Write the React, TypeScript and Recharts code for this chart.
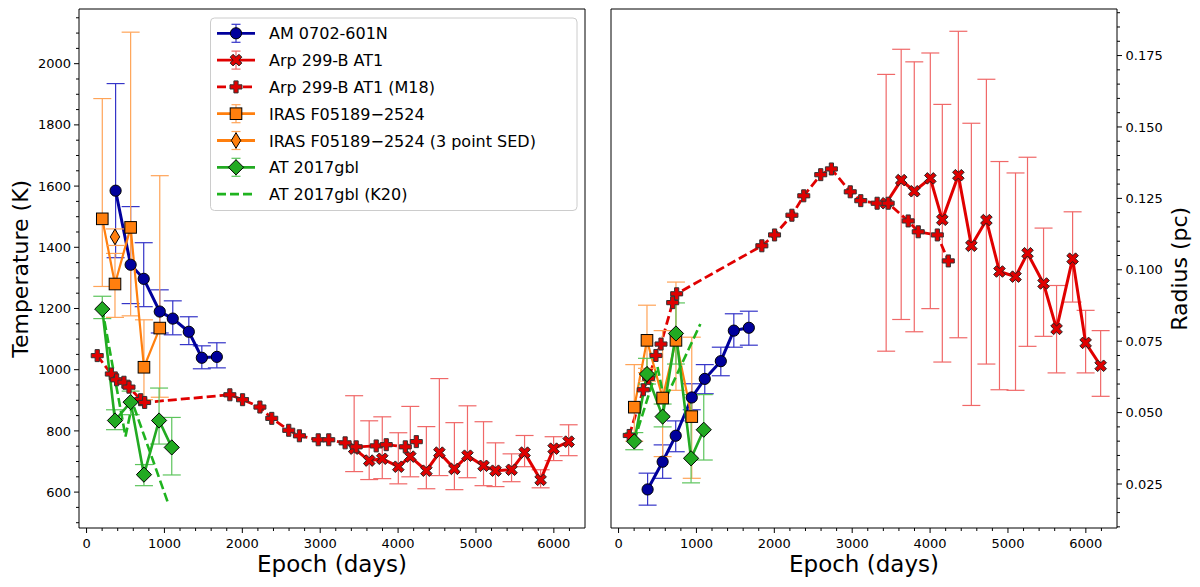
import { ComposedChart, Line, XAxis, YAxis, ErrorBar, ReferenceLine } from 'recharts';

// ---- values ----
// AM 0702-601N
const AM_EPOCH = [373, 566, 734, 940, 1107, 1313, 1480, 1673];
const AM_TEMP = [1585, 1343, 1297, 1190, 1167, 1124, 1039, 1042];
const AM_TEMP_LO = [1366, 1216, 1206, 1120, 1114, 1082, 1003, 1006];
const AM_TEMP_HI = [1935, 1533, 1415, 1261, 1225, 1173, 1078, 1088];
const AM_RAD = [0.0231, 0.0328, 0.0419, 0.0553, 0.0618, 0.068, 0.0787, 0.0797];
const AM_RAD_LO = [0.0176, 0.027, 0.0363, 0.051, 0.0566, 0.0629, 0.0729, 0.0736];
const AM_RAD_HI = [0.0288, 0.0387, 0.0471, 0.0601, 0.0668, 0.0729, 0.0846, 0.0855];

// Arp 299-B AT1
const ARP_EPOCH = [3436, 3629, 3797, 4003, 4157, 4363, 4530, 4723, 4891, 5097, 5251, 5457, 5624, 5830, 5997, 6190];
const ARP_TEMP = [742, 703, 709, 683, 716, 670, 729, 676, 719, 686, 670, 673, 729, 640, 742, 765];
const ARP_TEMP_LO = [667, 641, 644, 627, 650, 611, 654, 608, 647, 621, 618, 634, 683, 614, 703, 719];
const ARP_TEMP_HI = [915, 833, 846, 794, 880, 814, 971, 827, 882, 830, 761, 725, 785, 673, 781, 820];
const ARP_RAD = [0.1233, 0.1314, 0.1275, 0.132, 0.1175, 0.1331, 0.1084, 0.1174, 0.0994, 0.0976, 0.1058, 0.0952, 0.0793, 0.1039, 0.0744, 0.0664];
const ARP_RAD_LO = [0.0715, 0.0826, 0.0783, 0.0864, 0.0677, 0.0762, 0.0525, 0.067, 0.058, 0.0578, 0.0732, 0.0767, 0.0639, 0.0887, 0.0639, 0.0557];
const ARP_RAD_HI = [0.1684, 0.1772, 0.1728, 0.1759, 0.1579, 0.1835, 0.1513, 0.1667, 0.1379, 0.1339, 0.1394, 0.1146, 0.0945, 0.1203, 0.0858, 0.0787];

// Arp 299-B AT1 (M18)
const M18_EPOCH = [137, 318, 386, 480, 545, 695, 746, 1840, 2003, 2226, 2378, 2596, 2733, 2975, 3110, 3320, 3462, 3719, 3848, 4093, 4234];
const M18_TEMP = [1046, 986, 967, 959, 943, 902, 893, 918, 902, 878, 841, 802, 784, 771, 771, 761, 748, 751, 755, 748, 765];
const M18_RAD = [0.042, 0.058, 0.062, 0.07, 0.074, 0.0885, 0.0916, 0.1084, 0.1122, 0.1191, 0.1259, 0.1333, 0.1353, 0.1273, 0.1242, 0.1233, 0.1233, 0.1171, 0.1133, 0.1122, 0.1031];

// IRAS F05189-2524
const IRAS_EPOCH = [202, 365, 566, 737, 940];
const IRAS_TEMP = [1493, 1280, 1465, 1008, 1136];
const IRAS_TEMP_LO = [1272, 1171, 1176, 902, 910];
const IRAS_TEMP_HI = [1886, 1380, 2103, 1163, 1634];
const IRAS_RAD = [0.0519, 0.0753, 0.0551, 0.0753, 0.0486];
const IRAS_RAD_LO = [0.04, 0.064, 0.0346, 0.0578, 0.027];
const IRAS_RAD_HI = [0.0668, 0.0876, 0.0787, 0.0957, 0.0764];

// IRAS F05189-2524 (3 point SED)
const SED_EPOCH = [365];
const SED_TEMP = [1434];
const SED_TEMP_LO = [1406];
const SED_TEMP_HI = [1460];
const SED_RAD = [0.0633];
const SED_RAD_LO = [0.061];
const SED_RAD_HI = [0.0655];

// AT 2017gbl
const GBL_EPOCH = [202, 365, 566, 737, 931, 1094];
const GBL_TEMP = [1198, 834, 894, 657, 834, 746];
const GBL_TEMP_LO = [1167, 804, 853, 621, 757, 656];
const GBL_TEMP_HI = [1240, 869, 930, 690, 940, 844];
const GBL_RAD = [0.0399, 0.0635, 0.0486, 0.0777, 0.034, 0.044];
const GBL_RAD_LO = [0.037, 0.06, 0.045, 0.067, 0.0254, 0.0334];
const GBL_RAD_HI = [0.043, 0.069, 0.053, 0.0884, 0.0563, 0.0563];

// AT 2017gbl (K20)
const K20_EPOCH = [200, 500, 590, 1050];
const K20_TEMP = [1200, 782, 892, 562];
const K20_RAD = [0.04, 0.066, 0.054, 0.081];

// axes
const X_DOMAIN = [-97, 6400];
const T_DOMAIN = [482.7, 2178.7];
const R_DOMAIN = [0.0096, 0.1913];
const X_MAJOR = [0, 1000, 2000, 3000, 4000, 5000, 6000];
const T_MAJOR = [600, 800, 1000, 1200, 1400, 1600, 1800, 2000];
const R_MAJOR = [0.025, 0.05, 0.075, 0.1, 0.125, 0.15, 0.175];

const BLUE = '#00009c';
const RED = '#e00000';
const ORANGE = '#ff7f0e';
const GREEN = '#22aa22';
const FONT = '"DejaVu Sans", sans-serif';

function steps(start: number, end: number, step: number, dec: number) {
  const out: number[] = [];
  for (let k = 0; start + k * step <= end + 1e-9; k++) out.push(+(start + k * step).toFixed(dec));
  return out;
}
const X_TICKS = steps(0, 6200, 200, 0);
const T_TICKS = steps(500, 2150, 50, 0);
const R_TICKS = steps(0.01, 0.19, 0.005, 3);

function rows(xs: number[], ys: number[], lo?: number[], hi?: number[]) {
  return xs.map((x, i) => ({
    x,
    y: ys[i],
    err: lo && hi ? [ys[i] - lo[i], hi[i] - ys[i]] : undefined,
  }));
}

type Mk = 'circle' | 'x' | 'plus' | 'square' | 'thin' | 'diamond';

function cross(cx: number, cy: number, b: number, a: number, rot: number) {
  const pts = [[-a, -b], [a, -b], [a, -a], [b, -a], [b, a], [a, a], [a, b], [-a, b], [-a, a], [-b, a], [-b, -a], [-a, -a]];
  const c = Math.cos((rot * Math.PI) / 180);
  const s = Math.sin((rot * Math.PI) / 180);
  return pts.map(([x, y]) => `${cx + x * c - y * s},${cy + x * s + y * c}`).join(' ');
}

function marker(kind: Mk, cx: number, cy: number, fill: string, key?: any) {
  switch (kind) {
    case 'circle':
      return <circle key={key} cx={cx} cy={cy} r={5.6} fill={fill} stroke="#000" strokeWidth={1} />;
    case 'square':
      return <rect key={key} x={cx - 5.8} y={cy - 5.8} width={11.6} height={11.6} fill={fill} stroke="#000" strokeWidth={1} />;
    case 'diamond':
      return <polygon key={key} points={`${cx},${cy - 7.6} ${cx + 7.6},${cy} ${cx},${cy + 7.6} ${cx - 7.6},${cy}`} fill={fill} stroke="#000" strokeWidth={1} />;
    case 'thin':
      return <polygon key={key} points={`${cx},${cy - 7.8} ${cx + 4.7},${cy} ${cx},${cy + 7.8} ${cx - 4.7},${cy}`} fill={fill} stroke="#000" strokeWidth={1} />;
    case 'x':
      return <polygon key={key} points={cross(cx, cy, 6.2, 2.0, 45)} fill={fill} stroke="#222" strokeWidth={1} />;
    case 'plus':
    default:
      return <polygon key={key} points={cross(cx, cy, 6.0, 2.1, 0)} fill={fill} stroke="#333" strokeWidth={1} />;
  }
}

const dotOf = (kind: Mk, fill: string) => (p: any) =>
  p.cx == null || p.cy == null ? <g key={p.index} /> : marker(kind, p.cx, p.cy, fill, p.index);

const XTick = (props: any) => {
  const { x, y, payload } = props;
  const major = payload.value % 1000 === 0;
  return (
    <g>
      <line x1={x} x2={x} y1={y} y2={y + (major ? 5 : 3)} stroke="#000" strokeWidth={1} />
      {major && (
        <text x={x} y={y + 20} textAnchor="middle" fontSize={13} fontFamily={FONT} fill="#000">
          {payload.value}
        </text>
      )}
    </g>
  );
};

const TTick = (props: any) => {
  const { x, y, payload } = props;
  const major = payload.value % 200 === 0;
  return (
    <g>
      <line x1={x} x2={x - (major ? 5 : 3)} y1={y} y2={y} stroke="#000" strokeWidth={1} />
      {major && (
        <text x={x - 8} y={y + 4.6} textAnchor="end" fontSize={13} fontFamily={FONT} fill="#000">
          {payload.value}
        </text>
      )}
    </g>
  );
};

const RTick = (props: any) => {
  const { x, y, payload } = props;
  const major = R_MAJOR.some((m) => Math.abs(m - payload.value) < 1e-6);
  return (
    <g>
      <line x1={x} x2={x + (major ? 5 : 3)} y1={y} y2={y} stroke="#000" strokeWidth={1} />
      {major && (
        <text x={x + 8.5} y={y + 4.6} textAnchor="start" fontSize={13} fontFamily={FONT} fill="#000">
          {payload.value.toFixed(3)}
        </text>
      )}
    </g>
  );
};

// one panel = same series, different y values
function Series(kind: 'T' | 'R') {
  const t = kind === 'T';
  return [
    <Line key="am" data={rows(AM_EPOCH, t ? AM_TEMP : AM_RAD, t ? AM_TEMP_LO : AM_RAD_LO, t ? AM_TEMP_HI : AM_RAD_HI)}
      dataKey="y" stroke={BLUE} strokeWidth={3} dot={dotOf('circle', BLUE)} activeDot={false} isAnimationActive={false}>
      <ErrorBar dataKey="err" direction="y" width={9} stroke="#3535c8" strokeWidth={1.2} />
    </Line>,
    <Line key="arp" data={rows(ARP_EPOCH, t ? ARP_TEMP : ARP_RAD, t ? ARP_TEMP_LO : ARP_RAD_LO, t ? ARP_TEMP_HI : ARP_RAD_HI)}
      dataKey="y" stroke={RED} strokeWidth={3} dot={dotOf('x', RED)} activeDot={false} isAnimationActive={false}>
      <ErrorBar dataKey="err" direction="y" width={9} stroke="#f06868" strokeWidth={1.2} />
    </Line>,
    <Line key="m18" data={rows(M18_EPOCH, t ? M18_TEMP : M18_RAD)}
      dataKey="y" stroke={RED} strokeWidth={2.8} strokeDasharray="9 4" dot={dotOf('plus', RED)} activeDot={false} isAnimationActive={false} />,
    <Line key="iras" data={rows(IRAS_EPOCH, t ? IRAS_TEMP : IRAS_RAD, t ? IRAS_TEMP_LO : IRAS_RAD_LO, t ? IRAS_TEMP_HI : IRAS_RAD_HI)}
      dataKey="y" stroke={ORANGE} strokeWidth={2.2} dot={dotOf('square', ORANGE)} activeDot={false} isAnimationActive={false}>
      <ErrorBar dataKey="err" direction="y" width={9} stroke="#ffa458" strokeWidth={1.2} />
    </Line>,
    <Line key="sed" data={rows(SED_EPOCH, t ? SED_TEMP : SED_RAD, t ? SED_TEMP_LO : SED_RAD_LO, t ? SED_TEMP_HI : SED_RAD_HI)}
      dataKey="y" stroke={ORANGE} strokeWidth={2.2} dot={dotOf('thin', ORANGE)} activeDot={false} isAnimationActive={false}>
      <ErrorBar dataKey="err" direction="y" width={9} stroke="#ffa458" strokeWidth={1.2} />
    </Line>,
    <Line key="gbl" data={rows(GBL_EPOCH, t ? GBL_TEMP : GBL_RAD, t ? GBL_TEMP_LO : GBL_RAD_LO, t ? GBL_TEMP_HI : GBL_RAD_HI)}
      dataKey="y" stroke={GREEN} strokeWidth={2.6} dot={dotOf('diamond', GREEN)} activeDot={false} isAnimationActive={false}>
      <ErrorBar dataKey="err" direction="y" width={9} stroke="#5cc45c" strokeWidth={1.2} />
    </Line>,
    <Line key="k20" data={rows(K20_EPOCH, t ? K20_TEMP : K20_RAD)}
      dataKey="y" stroke="#1fb31f" strokeWidth={2.6} strokeDasharray="9 4" dot={false} activeDot={false} isAnimationActive={false} />,
  ];
}

const LEGEND = [
  { label: 'AM 0702-601N', color: BLUE, mk: 'circle' as Mk, err: '#3535c8', dash: false },
  { label: 'Arp 299-B AT1', color: RED, mk: 'x' as Mk, err: '#f06868', dash: false },
  { label: 'Arp 299-B AT1 (M18)', color: RED, mk: 'plus' as Mk, err: '', dash: true },
  { label: 'IRAS F05189\u22122524', color: ORANGE, mk: 'square' as Mk, err: '#ffa458', dash: false },
  { label: 'IRAS F05189\u22122524 (3 point SED)', color: ORANGE, mk: 'thin' as Mk, err: '#ffa458', dash: false },
  { label: 'AT 2017gbl', color: GREEN, mk: 'diamond' as Mk, err: '#5cc45c', dash: false },
  { label: 'AT 2017gbl (K20)', color: '#1fb31f', mk: null, err: '', dash: true },
];

function Overlay() {
  return (
    <svg width={1200} height={587} style={{ position: 'absolute', left: 0, top: 0, pointerEvents: 'none' }} fontFamily={FONT}>
      <text x={28} y={268.8} transform="rotate(-90 28 268.8)" textAnchor="middle" fontSize={22} fill="#000">Temperature (K)</text>
      <text x={332} y={572} textAnchor="middle" fontSize={23} fill="#000">Epoch (days)</text>
      <text x={864} y={572} textAnchor="middle" fontSize={23} fill="#000">Epoch (days)</text>
      <text x={1187} y={268.8} transform="rotate(-90 1187 268.8)" textAnchor="middle" fontSize={22} fill="#000">Radius (pc)</text>
      <rect x={210.5} y={18} width={366.5} height={192.5} rx={4} fill="#fff" fillOpacity={0.8} stroke="#cccccc" strokeWidth={1} />
      {LEGEND.map((e, i) => {
        const cy = 33.3 + i * 26.8;
        return (
          <g key={e.label}>
            {e.err && (
              <g stroke={e.err} strokeWidth={1.2}>
                <line x1={236} x2={236} y1={cy - 9} y2={cy + 9} />
                <line x1={231.5} x2={240.5} y1={cy - 9} y2={cy - 9} />
                <line x1={231.5} x2={240.5} y1={cy + 9} y2={cy + 9} />
              </g>
            )}
            <line x1={217} x2={255} y1={cy} y2={cy} stroke={e.color} strokeWidth={e.dash ? 2.8 : 2.8} strokeDasharray={e.dash ? '9 4' : undefined} />
            {e.mk && marker(e.mk, 236, cy, e.color)}
            <text x={269} y={cy + 6} fontSize={16} fill="#000">{e.label}</text>
          </g>
        );
      })}
    </svg>
  );
}

export default function App() {
  return (
    <div style={{ position: 'absolute', left: 0, top: 0, width: 1200, height: 587, background: '#fff', fontFamily: FONT }}>
      <div style={{ display: 'flex' }}>
        <ComposedChart width={600} height={587} margin={{ top: 9, right: 15, bottom: 0, left: 0 }}>
          <XAxis type="number" dataKey="x" domain={X_DOMAIN} allowDataOverflow ticks={X_TICKS} interval={0}
            tick={XTick} tickSize={0} tickMargin={0} tickLine={false} axisLine={{ stroke: '#000' }} height={59} />
          <YAxis type="number" domain={T_DOMAIN} allowDataOverflow ticks={T_TICKS} interval={0}
            tick={TTick} tickSize={0} tickMargin={0} tickLine={false} axisLine={{ stroke: '#000' }} width={79} />
          <ReferenceLine y={T_DOMAIN[1]} stroke="#000" strokeWidth={1} />
          <ReferenceLine x={X_DOMAIN[1]} stroke="#000" strokeWidth={1} />
          {Series('T')}
        </ComposedChart>
        <ComposedChart width={600} height={587} margin={{ top: 9, right: 0, bottom: 0, left: 11 }}>
          <XAxis type="number" dataKey="x" domain={X_DOMAIN} allowDataOverflow ticks={X_TICKS} interval={0}
            tick={XTick} tickSize={0} tickMargin={0} tickLine={false} axisLine={{ stroke: '#000' }} height={59} />
          <YAxis type="number" orientation="right" domain={R_DOMAIN} allowDataOverflow ticks={R_TICKS} interval={0}
            tick={RTick} tickSize={0} tickMargin={0} tickLine={false} axisLine={{ stroke: '#000' }} width={83} />
          <ReferenceLine y={R_DOMAIN[1]} stroke="#000" strokeWidth={1} />
          <ReferenceLine x={X_DOMAIN[0]} stroke="#000" strokeWidth={1} />
          {Series('R')}
        </ComposedChart>
      </div>
      <Overlay />
    </div>
  );
}
